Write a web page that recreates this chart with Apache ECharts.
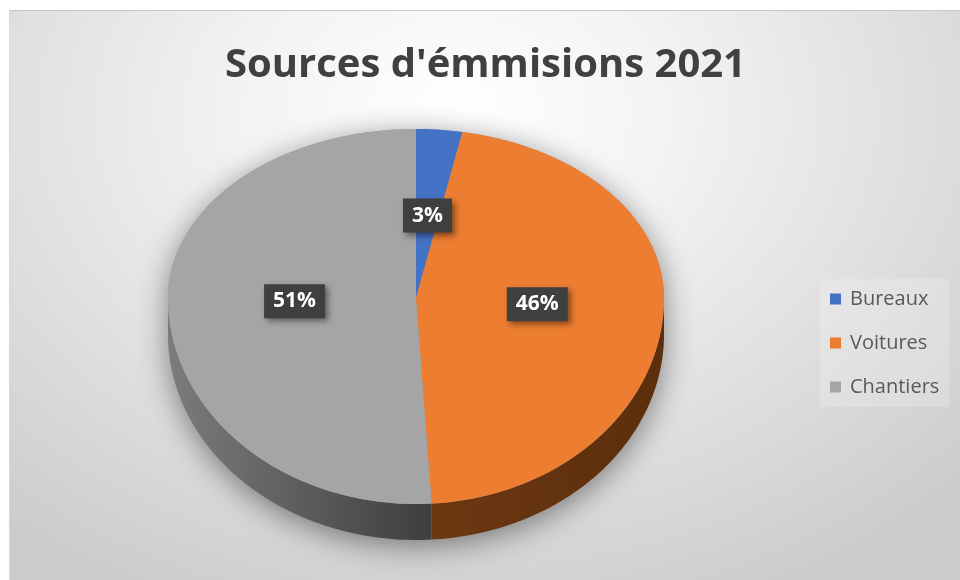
<!DOCTYPE html>
<html>
<head>
    <meta charset="UTF-8">
    <title>Sources d'émmisions 2021</title>
    <script src="https://cdn.jsdelivr.net/npm/echarts@6/dist/echarts.min.js"></script>
    <style>
        html, body {margin: 0; padding: 0; background: #ffffff;}
        #chart {
            position: absolute; left: 9px; top: 10px; width: 951px; height: 570px;
            border-top: 1px solid #c8c8c8; border-left: 1px solid #d8d8d8;
            background: radial-gradient(ellipse 75% 95% at 47% 18%, #ffffff 0%, #f3f3f3 30%, #dcdcdc 70%, #cbcbcb 100%);
        }
    </style>
</head>
<body>
    <div id="chart"></div>

    <script>
        // données
        const categories = ['Bureaux', 'Voitures', 'Chantiers'];
        const values = [3, 46, 51];
        const topColors = ['#4472C4', '#ED7D31', '#A5A5A5'];
        // dégradé de la tranche, de gauche à droite
        const sideColors = [['#2a4a80', '#203a66'], ['#6c3812', '#5c2e0c'], ['#7c7c7c', '#3e3e3e']];

        // géométrie du camembert incliné
        const cx = 406, cy = 287, rx = 248, ryTop = 169, ryBot = 206, depth = 36;
        const total = values.reduce((a, b) => a + b, 0);

        const pt = (a, k, dy) => {
            const c = Math.cos(a);
            const ry = c > 0 ? ryTop : ryBot;
            return [cx + rx * k * Math.sin(a), cy - ry * k * c + (dy || 0)];
        };
        const arc = (a1, a2, dy) => {
            const pts = [];
            const n = Math.max(2, Math.ceil((a2 - a1) / 0.02));
            for (let i = 0; i <= n; i++) pts.push(pt(a1 + (a2 - a1) * i / n, 1, dy));
            return pts;
        };

        const makeRender = idx => (params, api) => {
            const before = values.slice(0, idx).reduce((a, b) => a + b, 0);
            const a1 = before / total * Math.PI * 2;
            const a2 = (before + api.value(0)) / total * Math.PI * 2;
            const children = [];

            if (idx === 0) {
                // ombre portée sous le disque
                const outline = arc(0, Math.PI / 2).concat(arc(Math.PI / 2, Math.PI * 1.5, depth)).concat(arc(Math.PI * 1.5, Math.PI * 2));
                children.push({
                    type: 'polygon', z2: -10,
                    shape: { points: outline },
                    style: { fill: '#999', shadowBlur: 30, shadowColor: 'rgba(0,0,0,0.45)', shadowOffsetY: 6 }
                });
            }

            // face latérale (moitié avant)
            const s = Math.max(a1, Math.PI / 2), e = Math.min(a2, Math.PI * 1.5);
            if (e > s) {
                const front = arc(s, e, 0);
                const back = arc(s, e, depth).reverse();
                children.push({
                    type: 'polygon', z2: 0,
                    shape: { points: front.concat(back) },
                    style: {
                        fill: new echarts.graphic.LinearGradient(0, 0, 1, 0, [
                            { offset: 0, color: sideColors[idx][0] },
                            { offset: 1, color: sideColors[idx][1] }
                        ])
                    }
                });
            }

            // face supérieure
            children.push({
                type: 'polygon', z2: 1,
                shape: { points: [[cx, cy]].concat(arc(a1, a2, 0)) },
                style: { fill: topColors[idx] }
            });

            // étiquette
            const mid = (a1 + a2) / 2;
            const lp = pt(mid, 0.49, 0);
            children.push({
                type: 'text', z2: 100,
                x: lp[0], y: lp[1],
                style: {
                    text: Math.round(api.value(0) / total * 100) + '%',
                    fill: '#ffffff',
                    font: 'bold 21px "Open Sans", sans-serif',
                    align: 'center', verticalAlign: 'middle',
                    backgroundColor: '#3f3f3f',
                    padding: [7, 9, 6, 9],
                    shadowBlur: 6, shadowOffsetX: 3, shadowOffsetY: 3, shadowColor: 'rgba(0,0,0,0.45)'
                }
            });
            return { type: 'group', children: children };
        };

        const chart = echarts.init(document.getElementById('chart'));
        chart.setOption({
            animation: false,
            title: {
                text: "Sources d'émmisions 2021",
                left: 'center', top: 30,
                textStyle: { fontFamily: '"Open Sans", sans-serif', fontSize: 40, fontWeight: 'bold', color: '#404040' }
            },
            color: topColors,
            legend: {
                orient: 'vertical',
                left: 810, top: 268,
                itemWidth: 11, itemHeight: 11, itemGap: 24,
                icon: 'rect',
                padding: [10, 10, 10, 10],
                backgroundColor: 'rgba(255,255,255,0.2)',
                data: categories,
                textStyle: { color: '#595959', fontSize: 20, fontFamily: '"Open Sans", sans-serif', padding: [0, 0, 0, 4] }
            },
            series: categories.map((name, i) => ({
                type: 'custom',
                name: name,
                coordinateSystem: 'none',
                itemStyle: { color: topColors[i] },
                data: [values[i]],
                renderItem: makeRender(i)
            }))
        });
    </script>
</body>
</html>
